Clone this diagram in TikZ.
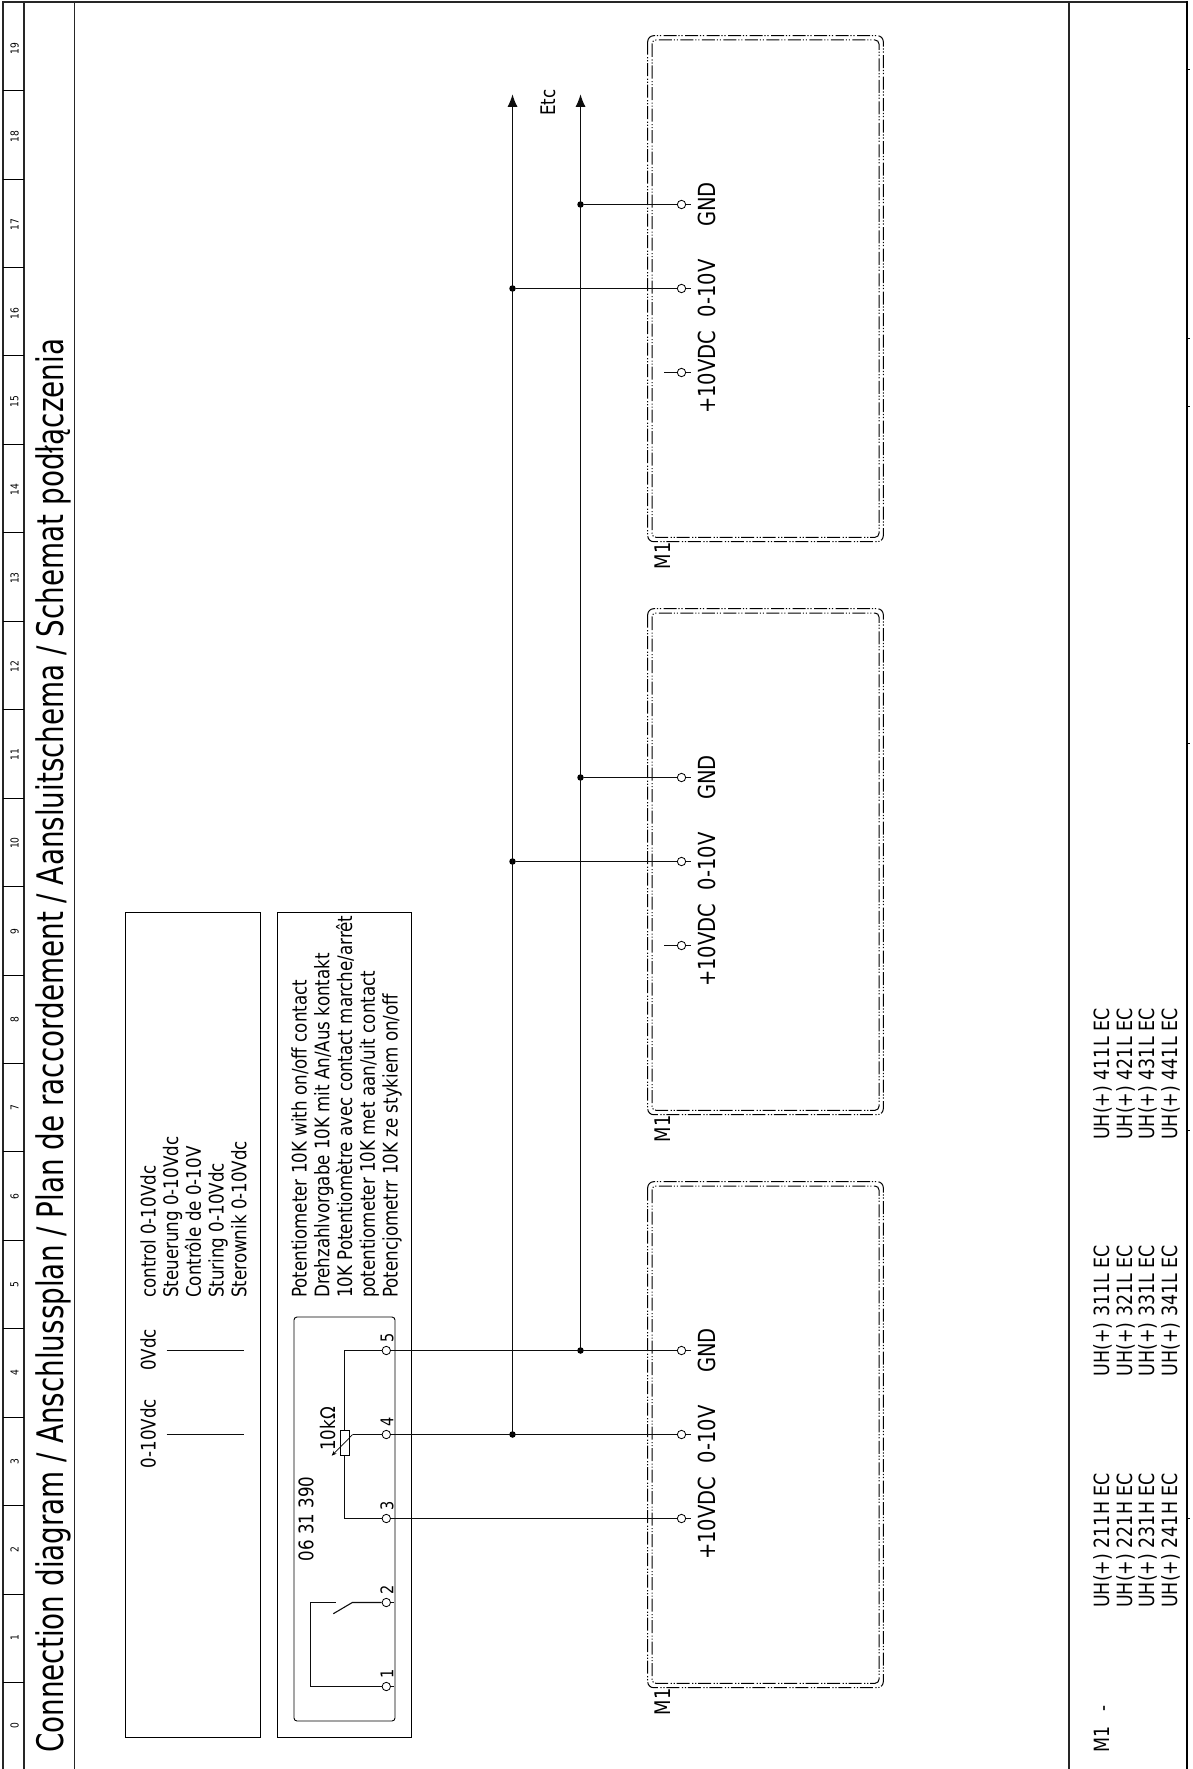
\documentclass[tikz,border=0pt]{standalone}
\usepackage{fontspec}
\usetikzlibrary{arrows.meta}
\setmainfont[FakeStretch=0.83]{DejaVu Sans}
\newfontfamily\titlefont[FakeStretch=0.76]{DejaVu Sans}
\newcommand{\fsz}[1]{\fontsize{#1}{#1}\selectfont}
\tikzset{
  x=1pt,y=-1pt,
  txt/.style={rotate=90,inner sep=0pt,font=\fsz{20.1},anchor=base},
  txtl/.style={rotate=90,inner sep=0pt,font=\fsz{20.1},anchor=base west},
  modtxt/.style={txt,font=\fsz{23.5}},
  parttxt/.style={txtl,font=\fsz{21}},
  pintxt/.style={txt,font=\fsz{17.5}},
  rule/.style={font=\fsz{11},rotate=90,inner sep=0pt},
  frameline/.style={line width=1.2pt,color=black!85},
  wire/.style={line width=1.1pt,color=black!95},
  pin/.style={circle,draw,line width=0.8pt,fill=white,minimum size=8.4pt,inner sep=0pt},
  dotj/.style={circle,fill=black,minimum size=6.5pt,inner sep=0pt},
  modouter/.style={line width=1pt,rounded corners=6pt,dash pattern=on 13pt off 2.5pt on 1.2pt off 1.8pt on 1.2pt off 1.8pt},
  modinner/.style={modouter,rounded corners=4pt},
  tick/.style={line width=1pt},
}
\begin{document}
\begin{tikzpicture}
\useasboundingbox (0,0) rectangle (1192,1769);
\fill[white] (0,0) rectangle (1192,1769);
% frame
\draw[frameline] (3,1769) -- (3,2) -- (1187,2);
\draw[line width=2pt] (1187,1) -- (1187,1769);
\draw[frameline] (24,2) -- (24,1769);
\draw[frameline] (74.5,2) -- (74.5,1769);
\draw[frameline] (1069,2) -- (1069,1769);
\foreach \k in {1,...,19}{
  \draw[line width=0.8pt] (3,{2+88.45*\k}) -- (24,{2+88.45*\k});
}
\foreach \k in {0,...,19}{
  \node[rule] at (14.5,{1726-88.3*\k}) {\k};
}
\foreach \y in {70,338,406,743,1130.7,1518}{
  \draw[tick] (1187,\y) -- (1190,\y);
}
\node[txtl,font=\titlefont\fsz{36.6}] (title) at (63.3,1753) {Connection diagram / Anschlussplan / Plan de raccordement / Aansluitschema / Schemat podłączenia};
% legend
\draw[line width=0.9pt] (125.5,912) rectangle (260,1737);
\draw[line width=0.9pt] (277,912) rectangle (411.5,1737);
\draw[line width=0.9pt,rounded corners=3pt] (294,1317) rectangle (395,1721);
\node[txt] at (155.7,1350) {0Vdc};
\node[txt] at (155.7,1433.5) {0-10Vdc};
\draw[wire] (166.7,1350.5) -- (243.7,1350.5);
\draw[wire] (166.7,1434.5) -- (243.7,1434.5);
\node[txtl] at (155.5,1298) {control 0-10Vdc};
\node[txtl] at (178.2,1298) {Steuerung 0-10Vdc};
\node[txtl] at (200.9,1298) {Contrôle de 0-10V};
\node[txtl] at (223.6,1298) {Sturing 0-10Vdc};
\node[txtl] at (246.3,1298) {Sterownik 0-10Vdc};
\node[txtl] at (306.7,1298) {Potentiometer 10K with on/off contact};
\node[txtl] at (329.4,1298) {Drehzahlvorgabe 10K mit An/Aus kontakt};
\node[txtl] at (352.1,1298) {10K Potentiomètre avec contact marche/arrêt};
\node[txtl] at (374.8,1298) {potentiometer 10K met aan/uit contact};
\node[txtl] at (397.5,1298) {Potencjometrr 10K ze stykiem on/off};
\node[txt] at (313.3,1519) {06 31 390};
\node[txt] at (335,1429) {10kΩ};
% switch pins
\foreach \n/\y in {1/1686.5,2/1602.5,3/1518.5,4/1434.5,5/1350.5}{
  \node[pin] (t\n) at (386.3,\y) {};
  \node[pintxt] at (393.3,{\y-13}) {\n};
}
% internal wiring
\coordinate (potTop) at (344.5,1350.5);
\coordinate (potBot) at (344.5,1518.5);
\draw[wire] (t5) -- (potTop) -- (potBot) -- (t3);
\node[draw,fill=white,line width=0.7pt,minimum width=8.7pt,minimum height=25pt,inner sep=0pt] (res) at (344.5,1443.2) {};
\coordinate (wiperA) at (352.7,1434.5);
\coordinate (wiperB) at (331.7,1455.7);
\draw[wire] (t4) -- (wiperA);
\draw[line width=0.7pt,-{Stealth[length=5pt,width=4pt]}] (wiperA) -- (wiperB);
\coordinate (swA) at (310.5,1602.5);
\coordinate (swB) at (335.7,1602.5);
\coordinate (swC) at (352.3,1602.5);
\coordinate (swD) at (333.3,1613.7);
\draw[wire] (t1) -- (310.5,1686.5) -- (swA) -- (swB);
\draw[wire] (t2) -- (swC) -- (swD);
\draw[wire] (t1.east) -- ++(3,0);
\draw[wire] (t2.east) -- ++(3,0);
% modules
\foreach \m/\o in {a/0,b/573,c/1146}{
  \draw[modouter] (647.7,{35.7+\o}) rectangle (883.3,{541.7+\o});
  \draw[modinner] (652,{40+\o}) rectangle (879,{537.3+\o});
  \node[pin] (gnd\m) at (681.5,{204.5+\o}) {};
  \node[pin] (sig\m) at (681.5,{288.5+\o}) {};
  \node[pin] (pwr\m) at (681.5,{372.5+\o}) {};
  \draw[wire] (gnd\m.east) -- ++(4.5,0);
  \draw[wire] (sig\m.east) -- ++(4.5,0);
  \draw[wire] (pwr\m.east) -- ++(4.5,0);
  \node[modtxt] at (715,{204.5+\o}) {GND};
  \node[modtxt] at (715,{288.4+\o}) {0-10V};
  \node[modtxt] at (715,{372.2+\o}) {+10VDC};
  \node[txt,font=\fsz{21.5}] at (670,{556+\o}) {M1};
}
\coordinate (stuba) at (664.3,372.5);
\coordinate (stubb) at (664.3,945.5);
\draw[wire] (stuba) -- (pwra);
\draw[wire] (stubb) -- (pwrb);
% buses
\node[dotj] (ja1) at (512.5,288.5) {};
\node[dotj] (jb1) at (512.5,861.5) {};
\node[dotj] (jc1) at (512.5,1434.5) {};
\node[dotj] (ja2) at (580.5,204.5) {};
\node[dotj] (jb2) at (580.5,777.5) {};
\node[dotj] (jc2) at (580.5,1350.5) {};
\coordinate (tip1) at (512.5,94.3);
\coordinate (tip2) at (580.5,94.3);
\draw[wire,-{Latex[length=12.5pt,width=10pt]}] (jc1.center) -- (tip1);
\draw[wire,-{Latex[length=12.5pt,width=10pt]}] (jc2.center) -- (tip2);
\draw[wire] (t5) -- (gndc);
\draw[wire] (t4) -- (sigc);
\draw[wire] (t3) -- (pwrc);
\draw[wire] (ja1) -- (siga);
\draw[wire] (jb1) -- (sigb);
\draw[wire] (ja2) -- (gnda);
\draw[wire] (jb2) -- (gndb);
\node[txt] at (555,102.5) {Etc};
% parts list
\node[parttxt] at (1109.5,1753) {M1};
\node[txt] at (1109.5,1708) {-};
\foreach \x/\a/\b/\c in {1109.3/211H/311L/411L,1132/221H/321L/421L,1154.7/231H/331L/431L,1177.4/241H/341L/441L}{
  \node[parttxt] at (\x,1608) {UH(+) \a{} EC};
  \node[parttxt] at (\x,1376.7) {UH(+) \b{} EC};
  \node[parttxt] at (\x,1140) {UH(+) \c{} EC};
}
\end{tikzpicture}
\end{document}
